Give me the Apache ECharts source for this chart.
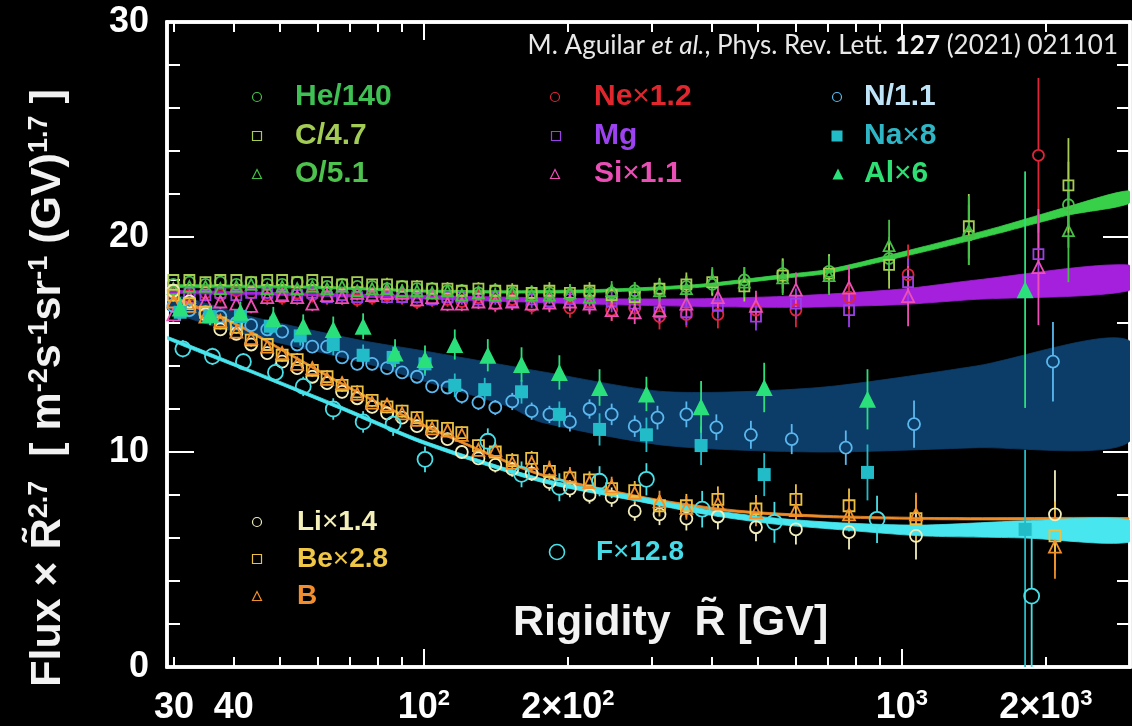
<!DOCTYPE html>
<html>
<head>
<meta charset="utf-8">
<script src="https://cdn.jsdelivr.net/npm/echarts@6/dist/echarts.min.js"></script>
<style>
  html, body { margin: 0; padding: 0; background: #000; }
  #chart { width: 1132px; height: 726px; }
</style>
</head>
<body>
<div id="chart"></div>
<script>
// ---- Axis ranges and tick labels ----
const X_MIN = 29, X_MAX = 3000;
const X_MAJOR_TICKS = [100, 1000];
const X_MINOR_TICKS = [30, 40, 50, 60, 70, 80, 90, 200, 300, 400, 500, 600, 700, 800, 900, 2000];
const X_LABEL_VALUES = [30, 40, 100, 200, 1000, 2000];
const X_LABEL_TEXTS = ['30', '40', '10^2', '2×10^2', '10^3', '2×10^3'];
const Y_MIN = 0, Y_MAX = 30, Y_STEP = 10;

// ---- Rigidity bins (GV) ----
const R_BINS = [29.9, 32.3, 34.9, 37.5, 40.5, 43.5, 47.0, 50.5, 54.3, 58.4, 62.7, 67.4, 72.5, 77.9, 83.7, 90.0, 96.7, 104, 112];
const R_HCO_HIGH = [120, 130, 141, 153, 168, 183, 202, 222, 247, 276, 311, 354, 401, 468, 563, 704, 940, 1380, 2230];
const R_NEMGSI_HIGH = [120, 130, 141, 153, 168, 183, 202, 222, 247, 276, 311, 354, 412, 495, 600, 775, 1030, 1930];
const R_N_HIGH = [120, 130, 141, 153, 168, 183, 202, 222, 247, 276, 308, 354, 409, 483, 588, 763, 1060, 2070];
const R_LIBEB_HIGH = [120, 130, 141, 153, 168, 183, 202, 222, 247, 276, 311, 354, 412, 495, 600, 775, 1070, 2090];
const R_F = [31.3, 36.1, 41.9, 48.9, 55.9, 64.6, 74.6, 86.2, 100.5, 136, 160, 192, 233, 292, 382, 541, 887, 1868];
const R_NA = [30.9, 35.7, 41.3, 47.7, 55.1, 64.6, 74.6, 86.2, 100.5, 116, 134, 160, 192, 233, 292, 380, 515, 847, 1810];
const R_AL = [30.9, 35.7, 41.3, 48.4, 55.9, 64.6, 74.6, 87.0, 100.5, 116, 136, 160, 192, 233, 292, 380, 515, 847, 1810];

// ---- Scaled flux x R^2.7 and errors (a number, or [down, up]) ----
const HE_FLUX = [17.8,17.9,17.8,17.9,17.8,17.9,17.8,17.8,17.9,17.8,17.7,17.8,17.7,17.7,17.6,17.7,17.6,17.6,17.5, 17.5,17.4,17.5,17.4,17.4,17.4,17.3,17.4,17.4,17.5,17.6,17.7,17.8,18.0,18.3,18.4,19.0,20.1,21.5];
const HE_ERR  = [0.2,0.2,0.2,0.2,0.2,0.2,0.2,0.2,0.2,0.2,0.2,0.2,0.2,0.2,0.25,0.25,0.25,0.25,0.25, 0.3,0.3,0.3,0.3,0.3,0.35,0.35,0.35,0.4,0.4,0.45,0.5,0.55,0.6,0.7,0.8,1.0,1.4,2.0];
const C_FLUX  = [18.0,18.0,17.9,18.0,18.0,17.9,18.0,18.0,17.9,18.0,17.9,17.8,17.9,17.8,17.8,17.7,17.7,17.6,17.6, 17.5,17.6,17.5,17.5,17.4,17.5,17.4,17.5,17.3,17.2,17.6,17.8,17.9,17.7,18.2,18.3,18.7,20.5,22.4];
const C_ERR   = [0.25,0.25,0.25,0.25,0.25,0.25,0.25,0.25,0.25,0.25,0.25,0.25,0.25,0.25,0.3,0.3,0.3,0.3,0.3, 0.3,0.3,0.35,0.35,0.35,0.4,0.4,0.4,0.45,0.45,0.5,0.55,0.6,0.7,0.8,0.9,1.1,1.5,2.2];
const O_FLUX  = [17.6,17.7,17.7,17.6,17.7,17.8,17.6,17.7,17.6,17.7,17.6,17.7,17.5,17.6,17.6,17.5,17.5,17.4,17.5, 17.3,17.4,17.3,17.4,17.3,17.3,17.4,17.2,17.5,17.4,17.5,17.6,18.0,17.9,18.1,18.2,19.6,20.3,20.3];
const O_ERR   = [0.25,0.25,0.25,0.25,0.25,0.25,0.25,0.25,0.25,0.25,0.25,0.25,0.25,0.25,0.3,0.3,0.3,0.3,0.3, 0.3,0.35,0.35,0.35,0.4,0.4,0.4,0.45,0.45,0.5,0.5,0.55,0.6,0.7,0.8,0.9,1.2,1.6,2.4];

const NE_FLUX = [17.5,17.3,17.4,17.3,17.5,17.4,17.3,17.2,17.4,17.3,17.2,17.3,17.1,17.2,17.3,17.2,17.0,17.1,17.1, 17.0,17.2,16.9,17.1,16.8,17.0,16.7,17.0,16.6,16.7,16.3,16.4,16.4,16.6,16.6,17.2,18.25,23.8];
const NE_ERR  = [0.35,0.35,0.35,0.35,0.35,0.35,0.35,0.35,0.35,0.35,0.35,0.35,0.35,0.35,0.35,0.35,0.35,0.35,0.35, 0.35,0.35,0.4,0.4,0.4,0.45,0.45,0.5,0.5,0.55,0.6,0.6,0.65,0.7,0.8,1.0,1.4,3.6];
const MG_FLUX = [17.3,17.4,17.3,17.4,17.3,17.4,17.4,17.3,17.3,17.4,17.2,17.3,17.2,17.3,17.2,17.2,17.2,17.1,17.2, 17.2,17.1,17.2,17.0,17.1,17.0,17.1,16.95,17.0,16.9,16.5,16.5,16.8,16.3,16.9,16.6,17.9,19.2];
const MG_ERR  = [0.3,0.3,0.3,0.3,0.3,0.3,0.3,0.3,0.3,0.3,0.3,0.3,0.3,0.3,0.3,0.3,0.3,0.3,0.3, 0.35,0.35,0.35,0.4,0.4,0.4,0.45,0.45,0.5,0.5,0.55,0.6,0.6,0.65,0.7,0.8,1.1,1.9];
const SI_FLUX = [16.4,17.2,17.0,17.0,16.9,16.8,17.2,17.3,17.2,16.9,17.3,17.2,17.4,17.3,17.4,17.4,17.1,17.2,16.9, 16.9,17.0,16.95,17.0,16.9,16.95,17.0,16.9,16.6,16.5,16.6,16.9,17.2,16.8,17.55,17.65,17.25,18.6];
const SI_ERR  = [0.35,0.35,0.35,0.35,0.35,0.35,0.35,0.35,0.35,0.35,0.35,0.35,0.35,0.35,0.35,0.35,0.35,0.35,0.35, 0.35,0.35,0.4,0.4,0.4,0.45,0.45,0.5,0.5,0.55,0.6,0.6,0.65,0.7,0.8,1.0,1.4,2.7];

const N_FLUX  = [16.8,16.6,16.5,16.3,16.0,15.9,15.7,15.6,15.0,14.9,14.9,14.4,14.1,14.1,13.9,13.7,13.5,13.05,13.0, 12.6,12.3,12.07,12.35,11.9,11.75,11.4,12.0,11.75,11.2,11.6,11.75,11.15,10.8,10.6,10.2,11.3,14.2];
const N_ERR   = [0.3,0.3,0.3,0.3,0.3,0.3,0.3,0.3,0.3,0.3,0.3,0.3,0.3,0.3,0.3,0.3,0.3,0.3,0.3, 0.35,0.35,0.35,0.4,0.4,0.4,0.45,0.45,0.5,0.5,0.55,0.6,0.6,0.65,0.7,0.8,1.1,1.85];
const NA_FLUX = [16.5,16.3,16.3,15.85,15.4,15.0,14.5,14.4,14.1,13.1,12.9,12.8,11.75,11.05,10.8,10.3,8.95,9.05,6.4];
const NA_ERR  = [0.4,0.4,0.4,0.45,0.45,0.5,0.5,0.5,0.55,0.55,0.55,0.55,0.6,0.75,0.8,0.9,1.0,1.3,[6.4,3.7]];
const AL_FLUX = [16.7,16.4,16.5,16.2,15.85,15.7,15.85,14.6,14.3,15.0,14.5,14.07,13.7,13.0,12.7,12.1,13.0,12.45,17.55];
const AL_ERR  = [0.5,0.5,0.5,0.55,0.55,0.6,0.6,0.65,0.65,0.7,0.75,0.8,0.8,0.85,0.8,1.2,1.15,1.4,5.5];

const LI_FLUX = [17.5,17.0,16.4,15.7,15.5,15.0,14.6,14.2,13.9,13.5,13.2,12.8,12.5,12.1,11.8,11.6,11.2,10.9,10.6, 10.0,9.7,9.4,9.2,9.0,8.6,8.3,8.0,7.9,7.25,7.1,6.9,7.0,6.5,6.4,6.27,6.1,7.1];
const LI_ERR  = [0.3,0.3,0.3,0.3,0.3,0.3,0.3,0.3,0.3,0.3,0.3,0.3,0.3,0.3,0.3,0.3,0.3,0.3,0.3, 0.3,0.3,0.35,0.35,0.35,0.4,0.4,0.4,0.45,0.45,0.5,0.55,0.6,0.65,0.7,0.8,1.1,2.05];
const BE_FLUX = [17.3,16.9,16.5,16.0,15.8,15.2,15.0,14.5,14.3,13.8,13.5,13.1,12.8,12.4,12.1,11.9,11.6,11.2,11.1, 10.9,10.3,10.0,9.6,9.7,9.1,8.8,8.7,8.3,8.2,7.5,7.5,7.8,7.35,7.8,7.5,6.9,6.1];
const BE_ERR  = [0.3,0.3,0.3,0.3,0.3,0.3,0.3,0.3,0.3,0.3,0.3,0.3,0.3,0.3,0.3,0.3,0.3,0.3,0.3, 0.3,0.3,0.35,0.35,0.35,0.4,0.4,0.4,0.45,0.45,0.5,0.55,0.6,0.65,0.7,0.8,1.1,1.6];
const B_FLUX  = [17.0,16.8,16.3,16.1,15.6,15.3,14.9,14.6,14.1,13.9,13.4,13.2,12.7,12.3,12.2,11.8,11.5,11.1,11.0, 10.8,10.1,10.1,9.5,9.5,9.2,8.9,8.6,8.4,8.1,7.7,7.4,7.6,7.2,7.3,7.1,7.1,5.6];
const B_ERR   = [0.3,0.3,0.3,0.3,0.3,0.3,0.3,0.3,0.3,0.3,0.3,0.3,0.3,0.3,0.3,0.3,0.3,0.3,0.3, 0.3,0.3,0.35,0.35,0.35,0.4,0.4,0.4,0.45,0.45,0.5,0.55,0.6,0.65,0.7,0.8,1.0,1.5];
const F_FLUX  = [14.8,14.45,14.2,13.7,13.05,12.0,11.4,11.3,9.66,10.5,8.96,8.36,8.64,8.73,7.34,6.73,6.87,3.3];
const F_ERR   = [0.4,0.4,0.4,0.45,0.45,0.5,0.5,0.55,0.6,0.6,0.6,0.65,0.7,0.75,0.85,0.95,1.1,3.3];

// ---- Fit bands: [rigidity, lower, upper] ----
const BAND_HCO = [[29.1,17.66,17.78],[60,17.61,17.71],[103,17.43,17.53],[153,17.39,17.5],[233,17.43,17.56],[377,17.66,17.8],[554,18.06,18.23],[704,18.32,18.5],[1100,19.29,19.53],[1593,20.17,20.47],[2230,21.02,21.42],[2978,21.55,22.15]];
const BAND_NEMGSI = [[29.1,17.39,17.51],[50,17.29,17.41],[100,17.12,17.28],[233,16.87,17.13],[377,16.77,17.13],[609,16.73,17.27],[1000,16.86,17.58],[1430,17.1,18.0],[2978,17.5,18.7]];
const BAND_NNAAL = [[29.1,16.6,17.35],[43.4,15.4,16.3],[73.5,14.2,15.2],[100,13.3,14.7],[151,12.1,14.0],[175,11.4,13.75],[322,10.3,12.8],[671,10.0,13.0],[1430,10.2,14.0],[2978,10.45,15.2]];
const BAND_LIBEB = [[29.1,17.25,17.35],[40,15.95,16.05],[50,14.75,14.85],[67,13.15,13.25],[85,11.95,12.05],[108,10.85,10.95],[175,8.91,9.01],[300,7.75,7.85],[450,7.2,7.3],[700,6.95,7.05],[1200,6.85,6.95],[2978,6.85,6.95]];
const BAND_F = [[29.1,15.23,15.37],[43.4,13.69,13.83],[66.8,11.99,12.15],[100,10.36,10.52],[175,8.61,8.79],[283,7.69,7.91],[390,7.09,7.33],[535,6.66,6.94],[739,6.39,6.71],[1100,6.1,6.6],[1810,6.0,6.8],[2978,5.8,6.85]];

// ---- Species: label, marker style and data ----
const SPECIES = [
  { label: 'Ne×1.2', color: '#e0243a', symbol: 'circle',   size: 11, filled: false, r: R_BINS.concat(R_NEMGSI_HIGH), flux: NE_FLUX, err: NE_ERR },
  { label: 'Mg',     color: '#9b3fe8', symbol: 'rect',     size: 10, filled: false, r: R_BINS.concat(R_NEMGSI_HIGH), flux: MG_FLUX, err: MG_ERR },
  { label: 'Si×1.1', color: '#ee4fb4', symbol: 'triangle', size: 12, filled: false, r: R_BINS.concat(R_NEMGSI_HIGH), flux: SI_FLUX, err: SI_ERR },
  { label: 'He/140', color: '#49c04a', symbol: 'circle',   size: 11, filled: false, r: R_BINS.concat(R_HCO_HIGH), flux: HE_FLUX, err: HE_ERR },
  { label: 'C/4.7',  color: '#a8cc50', symbol: 'rect',     size: 10, filled: false, r: R_BINS.concat(R_HCO_HIGH), flux: C_FLUX, err: C_ERR },
  { label: 'O/5.1',  color: '#44c044', symbol: 'triangle', size: 11, filled: false, r: R_BINS.concat(R_HCO_HIGH), flux: O_FLUX, err: O_ERR },
  { label: 'N/1.1',  color: '#5ab8ee', symbol: 'circle',   size: 12, filled: false, r: R_BINS.concat(R_N_HIGH), flux: N_FLUX, err: N_ERR },
  { label: 'Li×1.4', color: '#f2eebc', symbol: 'circle',   size: 12, filled: false, r: R_BINS.concat(R_LIBEB_HIGH), flux: LI_FLUX, err: LI_ERR },
  { label: 'Be×2.8', color: '#ecc040', symbol: 'rect',     size: 11, filled: false, r: R_BINS.concat(R_LIBEB_HIGH), flux: BE_FLUX, err: BE_ERR },
  { label: 'B',      color: '#f0902c', symbol: 'triangle', size: 12, filled: false, r: R_BINS.concat(R_LIBEB_HIGH), flux: B_FLUX, err: B_ERR },
  { label: 'F×12.8', color: '#48e0e8', symbol: 'circle',   size: 15, filled: false, r: R_F, flux: F_FLUX, err: F_ERR },
  { label: 'Na×8',   color: '#22bcc8', symbol: 'rect',     size: 13, filled: true,  r: R_NA, flux: NA_FLUX, err: NA_ERR },
  { label: 'Al×6',   color: '#2ae07a', symbol: 'triangle', size: 17, filled: true,  r: R_AL, flux: AL_FLUX, err: AL_ERR }
];

const BANDS = [
  { id: 'nnaal',  data: BAND_NNAAL,  color: '#0c3c68' },
  { id: 'nemgsi', data: BAND_NEMGSI, color: '#a420dc' },
  { id: 'hco',    data: BAND_HCO,    color: '#38d048' }
];
const BANDS_FRONT = [
  { id: 'libeb', data: BAND_LIBEB, color: '#f08c28' },
  { id: 'f',     data: BAND_F,     color: '#48e6ee' }
];

const FONT = '"Liberation Sans", Arial, sans-serif';
const CITE_FONT = 'Lato, "Open Sans", sans-serif';

// a fit band: closed outline through the upper edge and back along the lower edge
function bandSeries(b) {
  return {
    type: 'custom', name: b.id, silent: true, clip: true,
    data: b.data, encode: { x: 0, y: [1, 2] },
    renderItem(params, api) {
      if (params.dataIndex !== 0) return null;
      const upper = b.data.map(d => api.coord([d[0], d[2]]));
      const lower = b.data.map(d => api.coord([d[0], d[1]])).reverse();
      return {
        type: 'polygon',
        shape: { points: upper.concat(lower), smooth: 0.25 },
        style: { fill: b.color, stroke: b.color, lineWidth: 0.8 }
      };
    }
  };
}

// vertical error bars that stop at the marker outline
function errorBarSeries(sp) {
  const gap = sp.filled ? 0 : sp.size / 2;
  const data = sp.r.map((r, i) => {
    const e = sp.err[i];
    const dn = Array.isArray(e) ? e[0] : e;
    const up = Array.isArray(e) ? e[1] : e;
    return [r, sp.flux[i], sp.flux[i] - dn, sp.flux[i] + up];
  });
  return {
    type: 'custom', name: sp.label + '-err', silent: true, data,
    encode: { x: 0, y: 1 },
    renderItem(params, api) {
      const c = api.coord([api.value(0), api.value(1)]);
      const lo = api.coord([api.value(0), api.value(2)]);
      const hi = api.coord([api.value(0), api.value(3)]);
      const st = { stroke: sp.color, lineWidth: 1.8 };
      const children = [];
      if (hi[1] < c[1] - gap) children.push({ type: 'line', shape: { x1: c[0], y1: hi[1], x2: c[0], y2: c[1] - gap }, style: st });
      if (lo[1] > c[1] + gap) children.push({ type: 'line', shape: { x1: c[0], y1: c[1] + gap, x2: c[0], y2: lo[1] }, style: st });
      return { type: 'group', children };
    }
  };
}

function markerSeries(sp) {
  return {
    type: 'scatter', name: sp.label, silent: true,
    symbol: sp.symbol, symbolSize: sp.size,
    itemStyle: sp.filled
      ? { color: sp.color, opacity: 1 }
      : { color: 'rgba(0,0,0,0)', borderColor: sp.color, borderWidth: 1.8, opacity: 1 },
    data: sp.r.map((r, i) => [r, sp.flux[i]])
  };
}

const series = [];
BANDS.forEach(b => series.push(bandSeries(b)));
const bySpecies = name => SPECIES.find(s => s.label === name);
['Ne×1.2', 'Mg', 'Si×1.1', 'He/140', 'C/4.7', 'O/5.1', 'N/1.1', 'Li×1.4', 'Be×2.8', 'B']
  .forEach(n => { const sp = bySpecies(n); series.push(errorBarSeries(sp), markerSeries(sp)); });
BANDS_FRONT.forEach(b => series.push(bandSeries(b)));
['F×12.8', 'Na×8', 'Al×6']
  .forEach(n => { const sp = bySpecies(n); series.push(errorBarSeries(sp), markerSeries(sp)); });

// ---- x axes: labelled/major ticks and minor ticks, bottom and top ----
function xLabelFormatter(val) {
  const i = X_LABEL_VALUES.findIndex(v => Math.abs(v - val) / v < 1e-6);
  if (i < 0) return '';
  const parts = X_LABEL_TEXTS[i].split('^');
  return parts.length > 1 ? '{m|' + parts[0] + '}{s|' + parts[1] + '}' : '{m|' + parts[0] + '}';
}
function xAxis(position, ticks, len, withLine, withLabels) {
  return {
    type: 'log', logBase: 10, min: X_MIN, max: X_MAX, position,
    axisLine: { show: withLine, onZero: false, lineStyle: { color: '#fff', width: 3.5 } },
    axisTick: { show: true, inside: true, length: len, customValues: ticks, lineStyle: { color: '#fff', width: 2 } },
    minorTick: { show: false },
    splitLine: { show: false },
    axisLabel: withLabels ? {
      show: true, customValues: X_LABEL_VALUES, formatter: xLabelFormatter, margin: 21,
      rich: {
        m: { fontSize: 36, fontWeight: 'bold', fontFamily: FONT, color: '#fff', lineHeight: 40 },
        s: { fontSize: 22, fontWeight: 'bold', fontFamily: FONT, color: '#fff', lineHeight: 24, verticalAlign: 'top' }
      }
    } : { show: false }
  };
}
function yAxis(position, withLabels) {
  return {
    type: 'value', min: Y_MIN, max: Y_MAX, interval: Y_STEP, position,
    axisLine: { show: true, onZero: false, lineStyle: { color: '#fff', width: 3.5 } },
    axisTick: { show: true, inside: true, length: 27, lineStyle: { color: '#fff', width: 2 } },
    minorTick: { show: true, splitNumber: 5, length: 13, lineStyle: { color: '#fff', width: 2 } },
    splitLine: { show: false },
    axisLabel: withLabels ? { show: true, color: '#fff', fontSize: 36, fontWeight: 'bold', fontFamily: FONT, margin: 18 } : { show: false }
  };
}

// ---- Legend drawn as graphic marks and texts ----
const LEGEND_LAYOUT = [
  ['He/140', 257, 97, 295, 30], ['C/4.7', 257, 136, 295, 30], ['O/5.1', 257, 174, 295, 30],
  ['Ne×1.2', 555, 97, 594, 30], ['Mg', 556, 136, 594, 30], ['Si×1.1', 555, 174, 594, 30],
  ['N/1.1', 837, 97, 864, 30], ['Na×8', 837, 136, 864, 30], ['Al×6', 838, 174, 864, 30],
  ['Li×1.4', 257, 522, 297, 28], ['Be×2.8', 257, 559, 297, 28], ['B', 257, 596, 297, 28],
  ['F×12.8', 557, 552, 596, 28]
];
const LEGEND_TEXT_COLORS = {
  'He/140': '#3fc053', 'C/4.7': '#a3cc55', 'O/5.1': '#4dc24d',
  'Ne×1.2': '#e2262e', 'Mg': '#9c42f0', 'Si×1.1': '#ea4fb6',
  'N/1.1': '#bfe4f8', 'Na×8': '#2fb6c6', 'Al×6': '#2ee074',
  'Li×1.4': '#f4f0b8', 'Be×2.8': '#efc645', 'B': '#f28e2e', 'F×12.8': '#46dbe6'
};
function legendIcon(sp, cx, cy) {
  const big = sp.label === 'F×12.8';
  const s = sp.filled ? 11 : (big ? 15 : 9);
  const style = sp.filled ? { fill: sp.color } : { fill: 'none', stroke: sp.color, lineWidth: big ? 1.6 : 1.2 };
  const base = { silent: true, z: 100 };
  if (sp.symbol === 'circle') return Object.assign({ type: 'circle', shape: { cx, cy, r: s / 2 }, style }, base);
  if (sp.symbol === 'rect') return Object.assign({ type: 'rect', shape: { x: cx - s / 2, y: cy - s / 2, width: s, height: s }, style }, base);
  return Object.assign({ type: 'polygon', shape: { points: [[cx, cy - s / 2], [cx + s / 2, cy + s / 2], [cx - s / 2, cy + s / 2]] }, style }, base);
}
const graphics = [];
LEGEND_LAYOUT.forEach(([name, ix, iy, tx, fs]) => {
  const sp = bySpecies(name);
  const col = LEGEND_TEXT_COLORS[name];
  graphics.push(legendIcon(sp, ix, iy));
  graphics.push({
    type: 'text', x: tx, y: iy, silent: true, z: 100,
    style: {
      text: name.replace('×', '{x|×}'),
      fill: col, font: 'bold ' + fs + 'px ' + FONT,
      align: 'left', verticalAlign: 'middle', textAlign: 'left', textVerticalAlign: 'middle',
      rich: { x: { fill: col, fontSize: fs, fontWeight: 'normal', fontFamily: FONT } }
    }
  });
});

// axis titles and citation
graphics.push({
  type: 'text', x: 513, y: 623, silent: true, z: 100,
  style: { text: 'Rigidity  R\u0303 [GV]', fill: '#f2f2f2', font: 'bold 43px ' + FONT,
           align: 'left', verticalAlign: 'middle', textAlign: 'left', textVerticalAlign: 'middle' }
});
graphics.push({
  type: 'text', x: 48, y: 388, rotation: Math.PI / 2, silent: true, z: 100,
  style: {
    text: 'Flux × R\u0303{s|2.7}  [ m{s|-2}s{s|-1}sr{s|-1} (GV){s|1.7} ]',
    fill: '#f2f2f2', font: 'bold 43px ' + FONT,
    align: 'center', verticalAlign: 'middle', textAlign: 'center', textVerticalAlign: 'middle',
    rich: { s: { fill: '#f2f2f2', fontSize: 27, fontWeight: 'bold', fontFamily: FONT, verticalAlign: 'top', lineHeight: 28 } }
  }
});
graphics.push({
  type: 'text', x: 1118, y: 46, silent: true, z: 100,
  style: {
    text: '{n|M. Aguilar }{i|et al.}{n|, Phys. Rev. Lett. }{b|127}{n| (2021) 021101}',
    fill: '#e8e8e8', align: 'right', verticalAlign: 'middle', textAlign: 'right', textVerticalAlign: 'middle',
    rich: {
      n: { fill: '#e8e8e8', fontSize: 26, fontFamily: CITE_FONT },
      i: { fill: '#e8e8e8', fontSize: 26, fontStyle: 'italic', fontFamily: CITE_FONT },
      b: { fill: '#f4f4f4', fontSize: 26, fontWeight: 'bold', fontFamily: CITE_FONT }
    }
  }
});

const chart = echarts.init(document.getElementById('chart'), null, { renderer: 'canvas' });
chart.setOption({
  backgroundColor: '#000',
  animation: false,
  grid: { left: 167, right: 2, top: 22, bottom: 58, show: true, borderColor: '#fff', borderWidth: 3.5, backgroundColor: '#000' },
  xAxis: [
    xAxis('bottom', X_MAJOR_TICKS, 18, true, true),
    xAxis('bottom', X_MINOR_TICKS, 10, false, false),
    xAxis('top', X_MAJOR_TICKS, 18, true, false),
    xAxis('top', X_MINOR_TICKS, 10, false, false)
  ],
  yAxis: [yAxis('left', true), yAxis('right', false)],
  series,
  graphic: graphics
});
</script>
</body>
</html>
